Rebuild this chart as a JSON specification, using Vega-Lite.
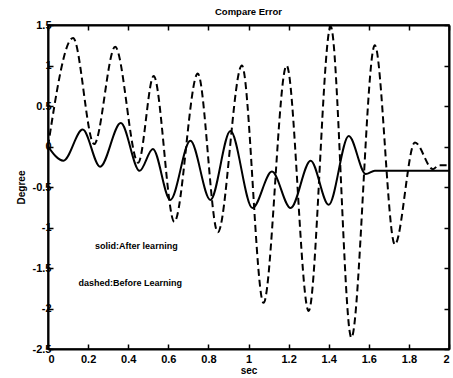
{
  "$schema": "https://vega.github.io/schema/vega-lite/v6.json",
  "width": 401,
  "height": 324,
  "autosize": {"type": "none"},
  "padding": {"left": 48, "top": 25, "right": 4, "bottom": 29},
  "background": "white",
  "title": {"text": "Compare Error", "fontSize": 9.5, "fontWeight": "bold", "font": "Liberation Sans", "color": "black", "offset": 3, "anchor": "middle"},
  "config": {
    "view": {"stroke": "black", "strokeWidth": 1.5},
    "axis": {"labelFont": "Liberation Sans", "labelFontWeight": "bold", "labelFontSize": 11, "labelColor": "black", "titleFont": "Liberation Sans", "titleFontWeight": "bold", "titleFontSize": 10, "titleColor": "black", "domainColor": "black", "domainWidth": 2, "tickColor": "black", "tickWidth": 1.5, "grid": false}
  },
  "datasets": {
    "solid": [
      {"t": 0, "v": 0}, {"t": 0.077, "v": -0.175}, {"t": 0.173, "v": 0.21}, {"t": 0.26, "v": -0.25},
      {"t": 0.363, "v": 0.29}, {"t": 0.457, "v": -0.3}, {"t": 0.523, "v": -0.03}, {"t": 0.61, "v": -0.66},
      {"t": 0.71, "v": 0.07}, {"t": 0.81, "v": -0.66}, {"t": 0.91, "v": 0.19}, {"t": 1.02, "v": -0.76},
      {"t": 1.117, "v": -0.31}, {"t": 1.21, "v": -0.76}, {"t": 1.31, "v": -0.175}, {"t": 1.4, "v": -0.72},
      {"t": 1.5, "v": 0.13}, {"t": 1.585, "v": -0.34}, {"t": 1.63, "v": -0.3}, {"t": 2.0, "v": -0.3}
    ],
    "dashed": [
      {"t": 0, "v": 0}, {"t": 0.125, "v": 1.34}, {"t": 0.23, "v": 0.03}, {"t": 0.335, "v": 1.23},
      {"t": 0.45, "v": -0.2}, {"t": 0.527, "v": 0.87}, {"t": 0.63, "v": -0.93}, {"t": 0.747, "v": 0.9},
      {"t": 0.847, "v": -1.06}, {"t": 0.967, "v": 1.0}, {"t": 1.075, "v": -1.93}, {"t": 1.19, "v": 1.0},
      {"t": 1.3, "v": -2.03}, {"t": 1.41, "v": 1.48}, {"t": 1.513, "v": -2.36}, {"t": 1.63, "v": 1.25},
      {"t": 1.73, "v": -1.21}, {"t": 1.83, "v": 0.05}, {"t": 1.92, "v": -0.28}, {"t": 1.95, "v": -0.23},
      {"t": 2.0, "v": -0.23}
    ],
    "notes": [
      {"t": 0.235, "v": -1.225, "label": "solid:After learning"},
      {"t": 0.152, "v": -1.68, "label": "dashed:Before Learning"}
    ]
  },
  "resolve": {"axis": {"x": "independent", "y": "independent"}},
  "layer": [
    {
      "data": {"name": "solid"},
      "mark": {"type": "line", "interpolate": "monotone", "color": "black", "strokeWidth": 2, "clip": true},
      "encoding": {
        "x": {"field": "t", "type": "quantitative", "scale": {"domain": [0, 2], "nice": false},
          "axis": {"title": "sec", "values": [0, 0.2, 0.4, 0.6, 0.8, 1, 1.2, 1.4, 1.6, 1.8, 2], "labelExpr": "'' + datum.value", "tickSize": -5, "labelPadding": 9, "titlePadding": 1}},
        "y": {"field": "v", "type": "quantitative", "scale": {"domain": [-2.5, 1.5], "nice": false, "zero": false},
          "axis": {"title": "Degree", "titleColor": "black", "values": [-2.5, -2, -1.5, -1, -0.5, 0, 0.5, 1, 1.5], "labelExpr": "'' + datum.value", "tickSize": -5, "labelPadding": 2, "titlePadding": 6}}
      }
    },
    {
      "data": {"name": "dashed"},
      "mark": {"type": "line", "interpolate": "monotone", "color": "black", "strokeWidth": 2, "strokeDash": [7, 4], "clip": true},
      "encoding": {
        "x": {"field": "t", "type": "quantitative", "scale": {"domain": [0, 2], "nice": false},
          "axis": {"orient": "top", "title": null, "labels": false, "values": [0, 0.2, 0.4, 0.6, 0.8, 1, 1.2, 1.4, 1.6, 1.8, 2], "tickSize": -5}},
        "y": {"field": "v", "type": "quantitative", "scale": {"domain": [-2.5, 1.5], "nice": false, "zero": false},
          "axis": {"orient": "right", "title": null, "labels": false, "values": [-2.5, -2, -1.5, -1, -0.5, 0, 0.5, 1, 1.5], "tickSize": -5}}
      }
    },
    {
      "data": {"name": "notes"},
      "mark": {"type": "text", "align": "left", "baseline": "middle", "font": "Liberation Sans", "fontWeight": "bold", "fontSize": 9, "color": "black"},
      "encoding": {
        "x": {"field": "t", "type": "quantitative", "axis": null},
        "y": {"field": "v", "type": "quantitative", "axis": null},
        "text": {"field": "label"}
      }
    }
  ]
}
